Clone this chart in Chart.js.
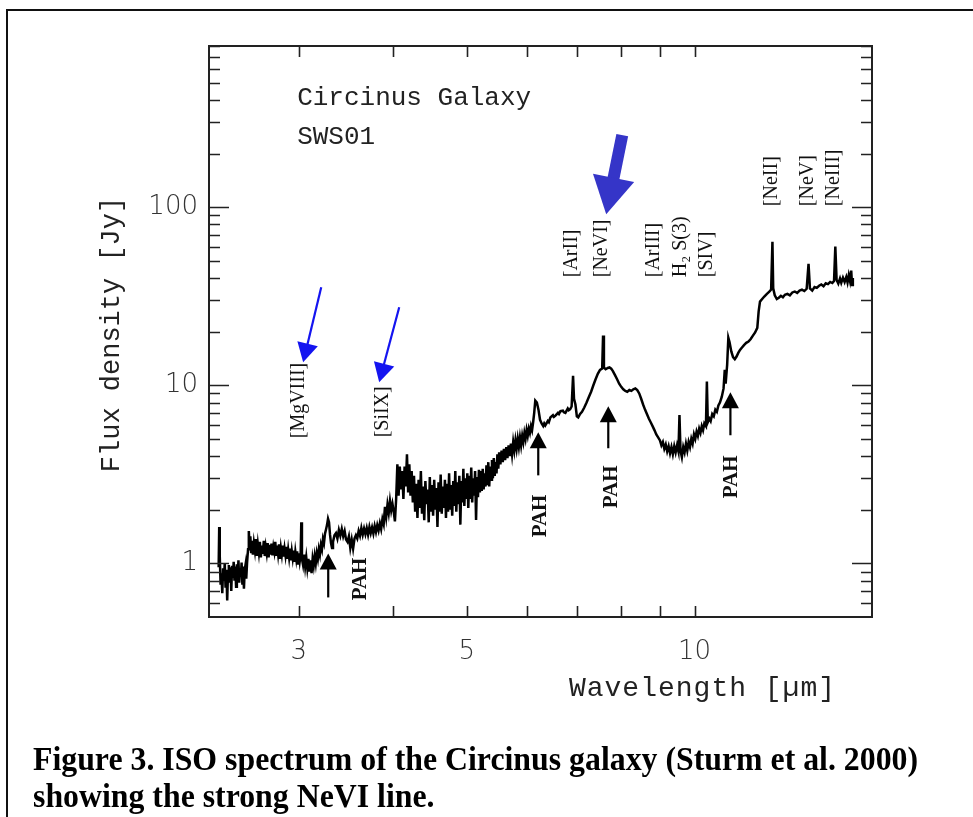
<!DOCTYPE html>
<html>
<head>
<meta charset="utf-8">
<script src="https://cdn.jsdelivr.net/npm/chart.js@4.4.1/dist/chart.umd.min.js"></script>
<style>
  body { margin: 0; background: #fff; }
  #wrap { position: relative; width: 973px; height: 817px; overflow: hidden; }
  #frame { position: absolute; left: 6px; top: 9px; width: 1000px; height: 900px; border: 2px solid #111; }
  canvas { position: absolute; left: 0; top: 0; }
  #caption { position: absolute; left: 33px; top: 741px; font: bold 33px "Liberation Serif", serif; line-height: 37px; color: #000; white-space: nowrap; transform-origin: 0 0; }
</style>
</head>
<body>
<div id="wrap">
  <div id="frame"></div>
  <canvas id="myChart" width="973" height="817"></canvas>
  <div id="caption"><span id="line1">Figure 3. ISO spectrum of the Circinus galaxy (Sturm et al. 2000)</span><br>showing the strong NeVI line.</div>
</div>
<script>
// ISO SWS01 spectrum of Circinus: [wavelength um, flux Jy]
const spectrum = [
  [2.352,0.95],[2.356,1.60],[2.360,1.10],[2.366,0.76],[2.372,0.88],[2.378,0.68],[2.384,0.94],[2.390,0.80],[2.396,1.00],[2.402,0.73],
  [2.408,0.92],[2.414,0.62],[2.420,0.90],[2.426,0.98],[2.432,0.78],[2.438,0.95],[2.444,0.70],[2.450,0.97],[2.456,0.83],[2.462,1.02],
  [2.468,0.80],[2.474,0.96],[2.480,0.74],[2.486,0.99],[2.492,0.86],[2.498,1.04],[2.504,0.78],[2.510,0.94],[2.516,0.84],[2.522,1.01],
  [2.528,0.76],[2.534,0.96],[2.540,0.72],[2.546,0.92],[2.552,0.98],[2.558,0.82],[2.564,1.00],
  [2.572,1.20],[2.578,1.52],[2.584,1.26],[2.590,1.42],[2.596,1.16],[2.602,1.34],[2.610,1.12],[2.618,1.30],[2.626,1.18],[2.634,1.37],
  [2.642,1.10],[2.650,1.28],[2.658,1.15],[2.666,1.32],[2.674,1.08],[2.682,1.26],[2.690,1.13],[2.698,1.34],[2.706,1.10],[2.714,1.24],
  [2.722,1.14],[2.730,1.30],[2.738,1.08],[2.746,1.27],[2.754,1.12],[2.762,1.29],[2.770,1.11],[2.778,1.24],[2.786,1.16],[2.794,1.32],
  [2.802,1.10],[2.810,1.26],[2.818,1.13],[2.826,1.28],[2.834,1.06],[2.842,1.22],[2.850,1.12],[2.858,1.26],[2.866,1.09],[2.874,1.21],
  [2.882,1.11],[2.890,1.24],[2.898,1.06],[2.906,1.19],[2.914,1.08],[2.922,1.21],[2.930,1.04],[2.938,1.17],[2.946,1.07],[2.954,1.18],
  [2.962,1.02],[2.970,1.16],[2.978,1.06],[2.986,1.17],[2.994,1.00],[3.002,1.14],[3.010,1.03],[3.018,1.12],[3.024,1.70],[3.030,1.06],
  [3.040,0.98],[3.050,1.12],[3.060,0.96],[3.070,1.08],[3.080,0.94],[3.090,1.06],[3.100,0.90],[3.110,1.04],[3.120,0.88],[3.130,1.06],
  [3.140,0.97],[3.150,1.10],[3.160,1.00],[3.170,1.14],[3.180,1.06],[3.190,1.20],[3.200,1.12],[3.210,1.27],[3.220,1.20],[3.230,1.37],
  [3.240,1.30],[3.250,1.47],[3.260,1.55],[3.270,1.64],[3.280,1.78],[3.290,1.70],[3.300,1.45],[3.310,1.30],[3.320,1.22],[3.330,1.32],
  [3.345,1.44],[3.360,1.48],[3.375,1.38],[3.390,1.54],[3.405,1.43],[3.420,1.56],[3.435,1.42],[3.450,1.52],[3.465,1.36],[3.480,1.32],
  [3.495,1.42],[3.510,1.22],[3.525,1.36],[3.540,1.21],[3.555,1.38],[3.570,1.44],[3.585,1.38],[3.600,1.52],[3.615,1.43],[3.630,1.58],
  [3.645,1.45],[3.660,1.57],[3.675,1.46],[3.690,1.58],[3.705,1.45],[3.720,1.60],[3.735,1.48],[3.750,1.59],[3.765,1.47],[3.780,1.62],
  [3.795,1.50],[3.810,1.64],[3.825,1.53],[3.840,1.68],[3.855,1.56],[3.870,1.77],[3.885,1.66],[3.900,2.08],[3.915,1.82],[3.930,2.14],
  [3.945,1.92],[3.960,2.24],[3.975,1.98],[3.990,2.16],[4.005,1.96],[4.020,1.72],[4.035,2.30],[4.050,3.60],[4.065,2.40],[4.080,3.50],
  [4.095,2.60],[4.110,3.30],[4.125,2.30],[4.140,3.50],[4.155,2.70],[4.170,4.10],[4.185,2.50],[4.200,3.60],[4.215,2.40],[4.230,3.30],
  [4.245,2.20],[4.260,3.10],[4.275,1.95],[4.290,2.80],[4.305,1.80],[4.320,2.95],[4.335,2.05],[4.350,3.30],[4.365,1.90],[4.380,2.70],
  [4.395,1.75],[4.410,2.90],[4.425,2.15],[4.440,2.60],[4.455,1.70],[4.470,3.05],[4.485,1.95],[4.500,2.75],[4.515,1.85],[4.530,2.95],
  [4.545,2.00],[4.560,2.65],[4.575,1.60],[4.590,2.85],[4.605,1.95],[4.620,3.15],[4.635,1.90],[4.650,2.70],[4.665,2.05],[4.680,2.95],
  [4.695,1.80],[4.710,2.80],[4.725,1.95],[4.740,3.20],[4.755,2.00],[4.770,2.75],[4.785,1.85],[4.800,2.90],[4.815,2.10],[4.830,3.30],
  [4.845,1.95],[4.860,2.85],[4.875,2.15],[4.890,3.10],[4.905,1.65],[4.920,2.90],[4.935,2.20],[4.950,3.40],[4.965,2.10],[4.980,3.00],
  [4.995,2.30],[5.010,3.20],[5.025,2.05],[5.040,3.10],[5.055,2.30],[5.070,3.45],[5.085,2.20],[5.100,3.00],[5.115,2.40],[5.130,3.30],
  [5.145,1.75],[5.160,3.05],[5.175,2.35],[5.190,3.35],[5.205,2.50],[5.220,3.30],[5.235,2.55],[5.250,3.40],[5.265,2.60],[5.280,3.20],
  [5.295,2.70],[5.310,3.55],[5.325,2.75],[5.340,3.70],[5.355,2.70],[5.370,3.50],[5.385,2.95],[5.400,3.80],[5.415,3.00],[5.430,3.90],
  [5.445,3.10],[5.460,3.70],[5.475,3.20],[5.490,4.10],[5.505,3.40],[5.520,4.20],[5.54,3.60],[5.56,4.30],[5.58,3.70],[5.60,4.40],
  [5.62,3.80],[5.64,4.50],[5.66,3.90],[5.68,4.60],[5.70,4.00],[5.72,4.70],[5.74,4.10],[5.76,4.80],[5.78,4.30],[5.80,4.90],
  [5.82,4.40],[5.84,5.00],[5.86,4.50],[5.88,5.10],[5.90,4.60],[5.92,5.20],[5.94,4.80],[5.96,5.40],[5.98,5.00],[6.00,5.60],
  [6.02,5.20],[6.04,5.70],[6.06,5.40],[6.08,5.90],[6.10,5.60],[6.12,6.20],[6.14,7.00],[6.16,8.20],[6.19,8.00],[6.22,7.30],
  [6.25,6.40],[6.28,6.10],[6.31,5.90],[6.33,6.10],[6.35,5.95],[6.40,6.30],[6.42,6.20],[6.45,6.60],[6.50,6.80],[6.52,6.65],
  [6.55,6.75],[6.60,7.00],[6.62,6.90],[6.65,7.15],[6.70,7.20],[6.72,7.05],[6.75,7.00],[6.80,7.40],[6.82,7.25],[6.85,7.35],
  [6.88,7.60],[6.91,11.3],[6.93,8.40],[6.96,7.80],[6.99,6.70],[7.02,6.60],[7.06,6.90],[7.10,7.10],[7.15,7.50],[7.20,8.00],
  [7.25,8.60],[7.30,9.20],[7.35,10.0],[7.40,10.8],[7.45,11.6],[7.50,12.2],[7.55,12.4],[7.57,19.0],[7.59,12.6],[7.63,12.3],
  [7.68,12.5],[7.72,12.6],[7.76,12.4],[7.80,12.0],[7.85,11.4],[7.90,10.8],[7.95,10.2],[8.00,9.80],[8.05,9.50],[8.10,9.30],
  [8.15,9.20],[8.20,9.40],[8.25,9.30],[8.30,9.50],[8.35,9.60],[8.40,9.40],[8.45,9.00],[8.50,8.40],[8.55,7.80],[8.60,7.30],
  [8.65,6.90],[8.70,6.50],[8.75,6.20],[8.80,5.90],[8.85,5.60],[8.90,5.30],[8.95,5.10],[9.00,4.90],[9.04,4.60],[9.08,4.80],
  [9.12,4.40],[9.16,4.65],[9.20,4.25],[9.24,4.55],[9.28,4.15],[9.32,4.50],[9.36,4.10],[9.40,4.55],[9.44,4.20],[9.48,4.60],
  [9.52,4.25],[9.55,6.80],[9.58,4.30],[9.62,3.95],[9.66,4.50],[9.70,4.20],[9.74,4.70],[9.78,4.30],[9.82,4.80],[9.86,4.50],
  [9.90,5.00],[9.94,4.70],[9.98,5.30],[10.02,5.00],[10.06,5.50],[10.10,5.20],[10.14,5.70],[10.18,5.40],[10.22,5.90],[10.26,5.60],
  [10.30,6.10],[10.35,5.90],[10.38,10.5],[10.41,6.20],[10.46,6.50],[10.50,6.30],[10.55,6.90],[10.60,6.70],[10.65,7.30],[10.70,7.10],
  [10.75,7.70],[10.80,8.00],[10.86,8.60],[10.92,9.60],[10.96,12.2],[10.99,10.2],[11.04,13.0],[11.08,18.5],[11.12,17.5],[11.18,15.5],
  [11.24,14.4],[11.30,14.0],[11.36,14.5],[11.42,15.2],[11.48,15.8],[11.55,16.3],[11.62,16.8],[11.70,17.3],[11.78,17.6],[11.86,18.2],
  [11.94,19.0],[12.02,19.8],[12.10,21.0],[12.15,26.0],[12.20,29.5],[12.28,30.5],[12.36,31.5],[12.45,32.5],[12.55,33.5],[12.62,34.5],
  [12.67,64.0],[12.70,35.0],[12.76,32.0],[12.84,30.5],[12.92,31.0],[13.00,31.8],[13.08,31.2],[13.16,32.2],[13.26,32.6],[13.36,32.0],
  [13.46,33.2],[13.56,33.6],[13.66,33.0],[13.76,34.0],[13.86,34.4],[13.96,33.8],[14.06,34.8],[14.14,48.0],[14.20,35.0],[14.30,34.0],
  [14.40,35.6],[14.50,35.2],[14.60,36.2],[14.70,36.8],[14.80,36.0],[14.90,37.4],[15.00,37.0],[15.10,38.0],[15.20,37.5],[15.28,38.5],
  [15.34,60.0],[15.40,39.0],[15.48,37.2],[15.56,39.8],[15.62,37.6],[15.70,40.2],[15.78,38.0],[15.86,40.5],[15.92,37.8],[15.98,41.5],
  [16.04,38.5],[16.10,44.0],[16.14,36.5],[16.18,40.0]
];

const xRange = [2.284, 17.15];
const yRange = [0.5, 803];
const xTickLabels = [3, 5, 10];
const yTickLabels = [1, 10, 100];
const xMinorTicks = [3, 4, 5, 6, 7, 8, 9, 10];
const yMinorTicks = [0.6, 0.7, 0.8, 0.9, 1, 2, 3, 4, 5, 6, 7, 8, 9, 10, 20, 30, 40, 50, 60, 70, 80, 90, 100, 200, 300, 400, 500, 600, 700, 800];

// line identifications: [text, wavelength, flux at foot of text]
const lineLabels = [
  ['[MgVIII]', 3.00, 5.04], ['[SiIX]', 3.879, 5.10],
  ['[ArII]', 6.893, 40.4], ['[NeVI]', 7.551, 40.4], ['[ArIII]', 8.845, 40.4], ['H\u2082 S(3)', 9.575, 40.4], ['[SIV]', 10.39, 40.4],
  ['[NeII]', 12.63, 101.3], ['[NeV]', 14.09, 101.3], ['[NeIII]', 15.29, 101.3]
];
const pahLabels = [[3.617, 0.620], [6.253, 1.40], [7.761, 2.04], [11.18, 2.32]];
// PAH arrows: [wavelength, flux tail, flux tip]
const pahArrows = [[3.282, 0.644, 1.138], [6.216, 3.12, 5.44], [7.691, 4.43, 7.62], [11.15, 5.24, 9.13]];
// blue arrows: [lambda tail, flux tail, lambda tip, flux tip]
const blueArrows = [[3.213, 35.5, 3.041, 13.47], [4.073, 27.4, 3.832, 10.4]];
const neviArrow = [8.025, 253.8, 7.643, 91.3];

function arrow(ctx, x0, y0, x1, y1, w, hl, hw, color) {
  const len = Math.hypot(x1 - x0, y1 - y0);
  const ux = (x1 - x0) / len, uy = (y1 - y0) / len;
  const bx = x1 - ux * hl, by = y1 - uy * hl;
  ctx.strokeStyle = color;
  ctx.fillStyle = color;
  ctx.lineWidth = w;
  ctx.lineCap = 'butt';
  ctx.beginPath();
  ctx.moveTo(x0, y0);
  ctx.lineTo(bx + ux * 2, by + uy * 2);
  ctx.stroke();
  ctx.beginPath();
  ctx.moveTo(x1, y1);
  ctx.lineTo(bx - uy * hw / 2, by + ux * hw / 2);
  ctx.lineTo(bx + uy * hw / 2, by - ux * hw / 2);
  ctx.closePath();
  ctx.fill();
}

function vtext(ctx, str, px, py, font) {
  ctx.save();
  ctx.translate(px, py);
  ctx.rotate(-Math.PI / 2);
  ctx.font = font;
  ctx.textAlign = 'left';
  ctx.textBaseline = 'middle';
  ctx.fillText(str, 0, 0);
  ctx.restore();
}

const decorations = {
  id: 'decorations',
  afterDraw(chart) {
    const { ctx, chartArea: a, scales: { x, y } } = chart;
    ctx.save();
    // frame
    ctx.strokeStyle = '#222';
    ctx.lineWidth = 2;
    ctx.strokeRect(a.left, a.top, a.right - a.left, a.bottom - a.top);
    // inward ticks
    ctx.lineWidth = 1.6;
    ctx.beginPath();
    xMinorTicks.forEach(v => {
      const px = Math.round(x.getPixelForValue(v)) + 0.5;
      ctx.moveTo(px, a.bottom); ctx.lineTo(px, a.bottom - 11);
      ctx.moveTo(px, a.top); ctx.lineTo(px, a.top + 11);
    });
    yMinorTicks.forEach(v => {
      const py = Math.round(y.getPixelForValue(v)) + 0.5;
      const len = yTickLabels.includes(v) ? 20 : 11;
      ctx.moveTo(a.left, py); ctx.lineTo(a.left + len, py);
      ctx.moveTo(a.right, py); ctx.lineTo(a.right - len, py);
    });
    ctx.stroke();

    // axis titles and figure labels
    ctx.fillStyle = '#222';
    ctx.font = '27px "Liberation Mono", monospace';
    ctx.textBaseline = 'middle';
    ctx.save();
    ctx.translate(a.left - 97, (a.top + a.bottom) / 2 + 3);
    ctx.rotate(-Math.PI / 2);
    ctx.textAlign = 'center';
    ctx.fillText('Flux density [Jy]', 0, 0);
    ctx.restore();

    ctx.font = '28px "Liberation Mono", monospace';
    ctx.letterSpacing = '1px';
    ctx.textAlign = 'right';
    ctx.fillText('Wavelength [\u00b5m]', a.right - 36, a.bottom + 72);
    ctx.letterSpacing = '0px';

    ctx.font = '26px "Liberation Mono", monospace';
    ctx.textAlign = 'left';
    ctx.fillText('Circinus Galaxy', x.getPixelForValue(2.986), y.getPixelForValue(410));
    ctx.fillText('SWS01', x.getPixelForValue(2.986), y.getPixelForValue(247));

    // line ids
    ctx.fillStyle = '#111';
    lineLabels.forEach(([t, lx, ly]) => {
      vtext(ctx, t, x.getPixelForValue(lx), y.getPixelForValue(ly), '20px "Liberation Serif", serif');
    });
    pahLabels.forEach(([lx, ly]) => {
      vtext(ctx, 'PAH', x.getPixelForValue(lx), y.getPixelForValue(ly), 'bold 21px "Liberation Serif", serif');
    });

    // arrows
    pahArrows.forEach(([lx, f0, f1]) => {
      const px = x.getPixelForValue(lx);
      arrow(ctx, px, y.getPixelForValue(f0), px, y.getPixelForValue(f1), 2.2, 16, 17, '#000');
    });
    blueArrows.forEach(([l0, f0, l1, f1]) => {
      arrow(ctx, x.getPixelForValue(l0), y.getPixelForValue(f0), x.getPixelForValue(l1), y.getPixelForValue(f1), 2.2, 19, 21, '#1414f0');
    });
    const [n0, g0, n1, g1] = neviArrow;
    arrow(ctx, x.getPixelForValue(n0), y.getPixelForValue(g0), x.getPixelForValue(n1), y.getPixelForValue(g1), 12, 37, 42, '#3535c8');
    ctx.restore();
  }
};

const chart = new Chart(document.querySelector('#myChart'), {
  type: 'line',
  data: {
    datasets: [{
      data: spectrum.map(p => ({ x: p[0], y: p[1] })),
      borderColor: '#000',
      borderWidth: 2.5,
      pointRadius: 0,
      tension: 0,
      fill: false
    }]
  },
  options: {
    responsive: false,
    animation: false,
    devicePixelRatio: 1,
    layout: { padding: { left: 0, top: 46, right: 101, bottom: 0 } },
    plugins: { legend: { display: false }, tooltip: { enabled: false } },
    scales: {
      x: {
        type: 'logarithmic',
        min: xRange[0], max: xRange[1],
        grid: { display: false, drawTicks: false },
        border: { display: false },
        afterBuildTicks: s => { s.ticks = xTickLabels.map(v => ({ value: v })); },
        afterFit: s => { s.height = 200; },
        ticks: {
          autoSkip: false, maxRotation: 0, padding: 20,
          color: '#333',
          font: { family: '"DejaVu Sans", sans-serif', size: 26, weight: '200' },
          callback: v => String(v)
        }
      },
      y: {
        type: 'logarithmic',
        min: yRange[0], max: yRange[1],
        grid: { display: false, drawTicks: false },
        border: { display: false },
        afterBuildTicks: s => { s.ticks = yTickLabels.map(v => ({ value: v })); },
        afterFit: s => { s.width = 209; },
        ticks: {
          autoSkip: false, padding: 11,
          color: '#333',
          font: { family: '"DejaVu Sans", sans-serif', size: 26, weight: '200' },
          callback: v => String(v)
        }
      }
    }
  },
  plugins: [decorations]
});

// squeeze the caption to the width of the printed one
const line1 = document.querySelector('#line1');
const k = 885 / line1.getBoundingClientRect().width;
document.querySelector('#caption').style.transform = 'scaleX(' + k.toFixed(3) + ')';
</script>
</body>
</html>
